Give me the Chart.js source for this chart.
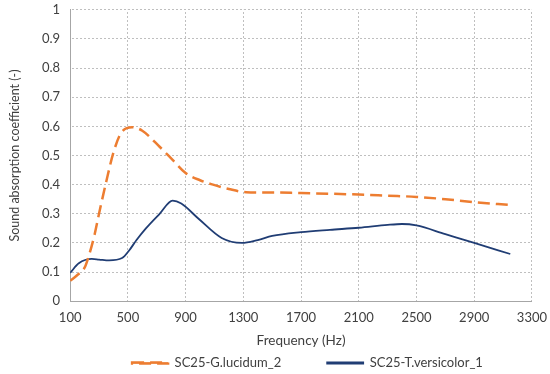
<!DOCTYPE html>
<html>
<head>
<meta charset="utf-8">
<script src="https://cdn.jsdelivr.net/npm/chart.js@4"></script>
<style>
  html, body { margin: 0; padding: 0; background: #fff; }
  #wrap { width: 550px; height: 374px; position: relative; }
</style>
</head>
<body>
<div id="wrap"><canvas id="chart"></canvas></div>
<script>
// frequency (Hz) and absorption coefficient
var freqLucidum = [100, 150, 200, 232, 270, 300, 350, 400, 450, 530, 600, 720, 810, 900, 1000, 1090, 1200, 1320, 1500, 1700, 1900, 2100, 2300, 2500, 2700, 2900, 3150];
var alphaLucidum = [0.07, 0.09, 0.115, 0.16, 0.23, 0.30, 0.41, 0.51, 0.575, 0.597, 0.585, 0.53, 0.485, 0.44, 0.415, 0.40, 0.385, 0.374, 0.373, 0.371, 0.369, 0.366, 0.362, 0.358, 0.35, 0.34, 0.33];

var freqVersicolor = [100, 160, 250, 300, 370, 460, 510, 560, 625, 720, 810, 870, 990, 1150, 1290, 1400, 1500, 1700, 1900, 2100, 2300, 2400, 2500, 2700, 2900, 3150];
var alphaVersicolor = [0.097, 0.13, 0.145, 0.143, 0.14, 0.148, 0.175, 0.21, 0.25, 0.30, 0.345, 0.335, 0.283, 0.217, 0.20, 0.21, 0.224, 0.237, 0.245, 0.252, 0.262, 0.265, 0.26, 0.23, 0.2, 0.162];

var seriesNames = ['SC25-G.lucidum_2', 'SC25-T.versicolor_1'];

function toPoints(xs, ys) {
    return xs.map(function (x, i) { return { x: x, y: ys[i] }; });
}

// dotted grid lines: 1px pattern, 2 on / 2 off
function dotPattern(horizontal) {
    var c = document.createElement('canvas');
    c.width = horizontal ? 4 : 1;
    c.height = horizontal ? 1 : 4;
    var g = c.getContext('2d');
    g.fillStyle = '#BFBFBF';
    if (horizontal) g.fillRect(0, 0, 2, 1); else g.fillRect(0, 0, 1, 2);
    return g.createPattern(c, 'repeat');
}

// legend needs wide gaps between items but little space above the text,
// and sits centred under the plot rather than the whole canvas
var LEGEND_SHRINK = 44;
var LEGEND_SHIFT = 38.5;
var LEGEND_DX = 29;
var legendTweak = {
    id: 'legendTweak',
    beforeLayout: function (chart) {
        var lg = chart.legend;
        if (!lg || lg._tweaked) return;
        var fit = lg.fit, draw = lg.draw;
        lg.fit = function () { fit.call(this); this.height -= LEGEND_SHRINK; };
        lg.draw = function () {
            this.top -= LEGEND_SHIFT;
            this.left += LEGEND_DX;
            this.right += LEGEND_DX;
            draw.call(this);
            this.top += LEGEND_SHIFT;
            this.left -= LEGEND_DX;
            this.right -= LEGEND_DX;
        };
        lg._tweaked = true;
    }
};

var fontFamily = 'Lato, "Open Sans", sans-serif';
Chart.defaults.font.family = fontFamily;
Chart.defaults.color = '#404040';

var clear = 'rgba(0,0,0,0)';

new Chart(document.getElementById('chart'), {
    type: 'line',
    data: {
        datasets: [{
            label: seriesNames[0],
            data: toPoints(freqLucidum, alphaLucidum),
            borderColor: '#ED7D31',
            backgroundColor: '#ED7D31',
            borderWidth: 2.5,
            borderDash: [12, 6],
            pointRadius: 0,
            cubicInterpolationMode: 'monotone',
            fill: false
        }, {
            label: seriesNames[1],
            data: toPoints(freqVersicolor, alphaVersicolor),
            borderColor: '#203D74',
            backgroundColor: '#203D74',
            borderWidth: 1.8,
            pointRadius: 0,
            cubicInterpolationMode: 'monotone',
            fill: false
        }]
    },
    plugins: [legendTweak],
    options: {
        responsive: true,
        maintainAspectRatio: false,
        animation: false,
        layout: { padding: { top: 0, right: 0, left: 7, bottom: 0 } },
        scales: {
            x: {
                type: 'linear',
                min: 100,
                max: 3300,
                ticks: {
                    stepSize: 400,
                    font: { size: 13 },
                    color: '#404040',
                    padding: 3,
                    maxRotation: 0,
                    autoSkip: false,
                    callback: function (v) { return String(v); }
                },
                grid: { color: dotPattern(false), drawTicks: true, tickLength: 6, tickColor: clear, lineWidth: 1 },
                border: { display: true, color: '#A6A6A6' },
                title: { display: true, text: 'Frequency (Hz)', font: { size: 13.5 }, color: '#404040', padding: { top: 4, bottom: 0 } }
            },
            y: {
                min: 0,
                max: 1,
                ticks: {
                    stepSize: 0.1,
                    font: { size: 13 },
                    color: '#404040',
                    padding: 2,
                    callback: function (v) { return String(Math.round(v * 10) / 10); }
                },
                grid: { color: dotPattern(true), drawTicks: true, tickLength: 8, tickColor: clear, lineWidth: 1 },
                border: { display: true, color: '#A6A6A6' },
                title: { display: true, text: 'Sound absorption coefficient (-)', font: { size: 12.5 }, color: '#404040', padding: { top: 0, bottom: 18 } }
            }
        },
        plugins: {
            legend: {
                position: 'bottom',
                labels: {
                    boxWidth: 36,
                    boxHeight: 1,
                    padding: 46,
                    font: { size: 13 },
                    color: '#404040'
                }
            },
            tooltip: { enabled: false }
        }
    }
});
</script>
</body>
</html>
